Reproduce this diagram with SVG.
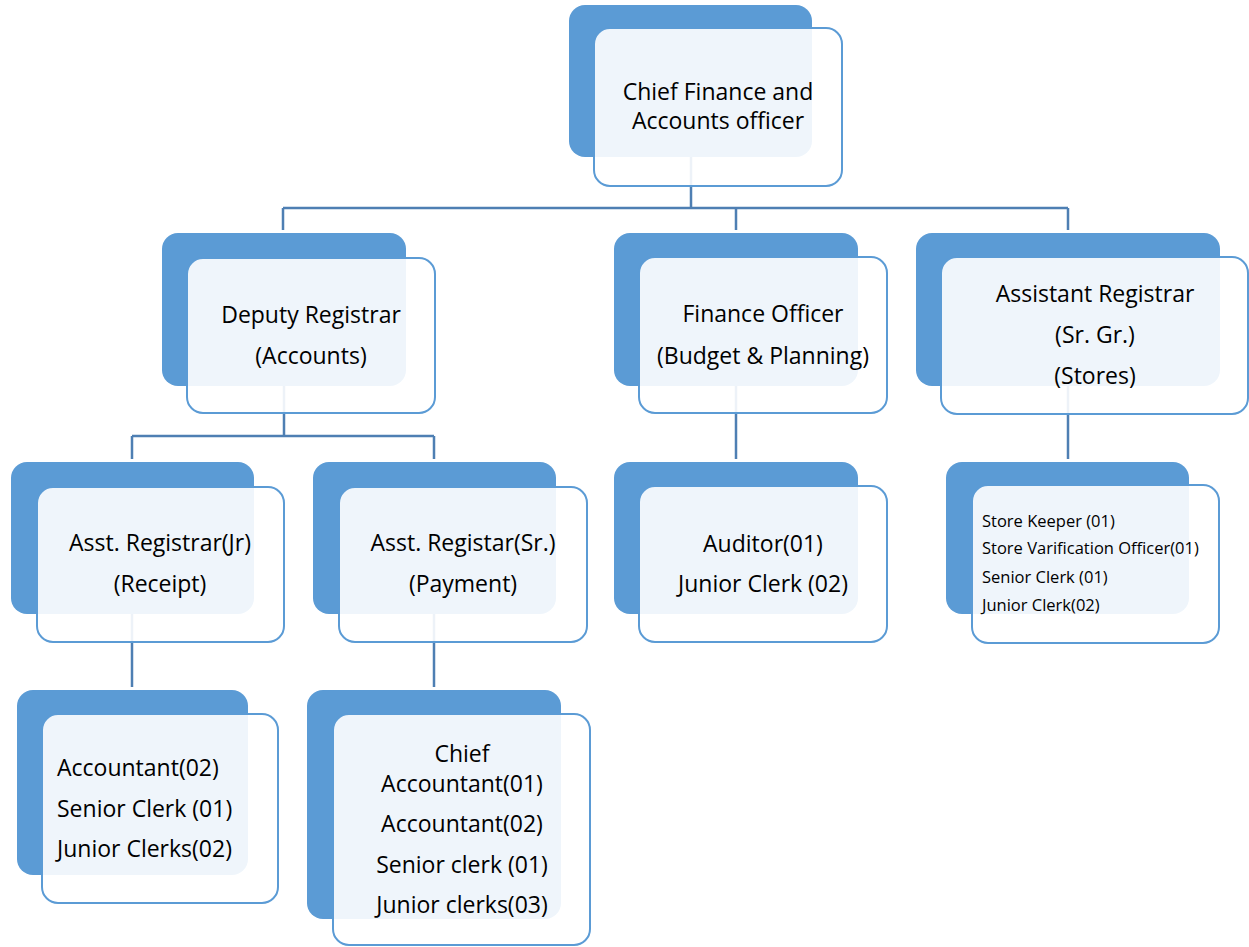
<svg xmlns="http://www.w3.org/2000/svg" width="1249" height="947" viewBox="0 0 1249 947">
  <style>
    .back { fill: #5B9BD5; }
    .front { fill: #FFFFFF; fill-opacity: 0.9; stroke: #5B9BD5; stroke-width: 2; }
    .conn { fill: none; stroke: #4E7FB3; stroke-width: 2.5; }
    .t { font-family: "Open Sans", "Noto Sans", sans-serif; font-size: 23px; fill: #000; text-anchor: middle; }
    .l { text-anchor: start; }
    .s { font-size: 16.5px; }
  </style>
  <rect width="1249" height="947" fill="#FFFFFF"/>

  <!-- connectors (drawn first so the translucent cards veil them) -->
  <g id="connectors">
    <path class="conn" d="M691 157 V208 M283 208 H1068 M283 208 V230 M736 208 V230 M1068 208 V230"/>
    <path class="conn" d="M284 386 V436 M132 436 H434 M132 436 V459 M434 436 V459"/>
    <path class="conn" d="M736 386 V459"/>
    <path class="conn" d="M1068 386 V459"/>
    <path class="conn" d="M132 614 V687"/>
    <path class="conn" d="M434 614 V687"/>
  </g>

  <g id="cfao">
    <rect class="back" x="569" y="5" width="243" height="152" rx="16"/>
    <rect class="front" x="594" y="28" width="248" height="158" rx="16"/>
    <text class="t" x="718" y="100">Chief Finance and</text>
    <text class="t" x="718" y="129">Accounts officer</text>
  </g>

  <g id="deputy-registrar">
    <rect class="back" x="162" y="233" width="244" height="153" rx="16"/>
    <rect class="front" x="187" y="258" width="248" height="155" rx="16"/>
    <text class="t" x="311" y="323">Deputy Registrar</text>
    <text class="t" x="311" y="364">(Accounts)</text>
  </g>

  <g id="finance-officer">
    <rect class="back" x="614" y="233" width="244" height="153" rx="16"/>
    <rect class="front" x="639" y="257" width="248" height="156" rx="16"/>
    <text class="t" x="763" y="322">Finance Officer</text>
    <text class="t" x="763" y="364">(Budget &amp; Planning)</text>
  </g>

  <g id="assistant-registrar">
    <rect class="back" x="916" y="233" width="304" height="153" rx="16"/>
    <rect class="front" x="941" y="257" width="307" height="157" rx="16"/>
    <text class="t" x="1095" y="302">Assistant Registrar</text>
    <text class="t" x="1095" y="343">(Sr. Gr.)</text>
    <text class="t" x="1095" y="384">(Stores)</text>
  </g>

  <g id="asst-registrar-jr">
    <rect class="back" x="11" y="462" width="243" height="152" rx="16"/>
    <rect class="front" x="37" y="487" width="247" height="155" rx="16"/>
    <text class="t" x="160" y="551">Asst. Registrar(Jr)</text>
    <text class="t" x="160" y="592">(Receipt)</text>
  </g>

  <g id="asst-registar-sr">
    <rect class="back" x="313" y="462" width="243" height="152" rx="16"/>
    <rect class="front" x="339" y="487" width="248" height="155" rx="16"/>
    <text class="t" x="463" y="551">Asst. Registar(Sr.)</text>
    <text class="t" x="463" y="592">(Payment)</text>
  </g>

  <g id="auditor">
    <rect class="back" x="614" y="462" width="244" height="152" rx="16"/>
    <rect class="front" x="639" y="486" width="248" height="156" rx="16"/>
    <text class="t" x="763" y="552">Auditor(01)</text>
    <text class="t" x="763" y="592">Junior Clerk (02)</text>
  </g>

  <g id="stores-staff">
    <rect class="back" x="946" y="462" width="243" height="152" rx="16"/>
    <rect class="front" x="972" y="485" width="247" height="158" rx="16"/>
    <text class="t l s" x="982" y="527">Store Keeper (01)</text>
    <text class="t l s" x="982" y="554">Store Varification Officer(01)</text>
    <text class="t l s" x="982" y="583">Senior Clerk (01)</text>
    <text class="t l s" x="982" y="611">Junior Clerk(02)</text>
  </g>

  <g id="receipt-staff">
    <rect class="back" x="17" y="690" width="231" height="185" rx="16"/>
    <rect class="front" x="42" y="714" width="236" height="189" rx="16"/>
    <text class="t l" x="57" y="776">Accountant(02)</text>
    <text class="t l" x="57" y="817">Senior Clerk (01)</text>
    <text class="t l" x="57" y="857">Junior Clerks(02)</text>
  </g>

  <g id="payment-staff">
    <rect class="back" x="307" y="690" width="254" height="229" rx="16"/>
    <rect class="front" x="333" y="714" width="257" height="231" rx="16"/>
    <text class="t" x="462" y="762">Chief</text>
    <text class="t" x="462" y="792">Accountant(01)</text>
    <text class="t" x="462" y="832">Accountant(02)</text>
    <text class="t" x="462" y="873">Senior clerk (01)</text>
    <text class="t" x="462" y="913">Junior clerks(03)</text>
  </g>
</svg>
